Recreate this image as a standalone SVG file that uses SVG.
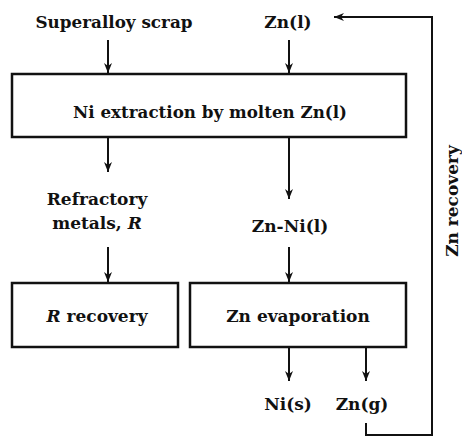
<svg xmlns="http://www.w3.org/2000/svg" width="462" height="438" viewBox="0 0 462 438">
<defs>
<marker id="ah" viewBox="0 0 10 8" refX="10" refY="4" markerWidth="10" markerHeight="8" markerUnits="userSpaceOnUse" orient="auto">
<path d="M0,0 L10,4 L0,8 L3,4 Z" fill="#111"/>
</marker>
</defs>
<style>
text{font-family:"DejaVu Serif","Liberation Serif",serif;font-weight:bold;font-size:17px;fill:#111}
.box{fill:#fff;stroke:#111;stroke-width:2.5}
.ln{fill:none;stroke:#111;stroke-width:2}
.arr{fill:none;stroke:#111;stroke-width:2;marker-end:url(#ah)}
</style>
<rect width="462" height="438" fill="#fff"/>
<g id="connectors">
<line class="arr" x1="108" y1="40" x2="108" y2="73"/>
<line class="arr" x1="289" y1="40" x2="289" y2="73"/>
<line class="arr" x1="108" y1="138" x2="108" y2="172"/>
<line class="arr" x1="289" y1="138" x2="289" y2="199"/>
<line class="arr" x1="108" y1="247" x2="108" y2="282"/>
<line class="arr" x1="289" y1="247" x2="289" y2="282"/>
<line class="arr" x1="289" y1="348" x2="289" y2="381"/>
<line class="arr" x1="366" y1="348" x2="366" y2="381"/>
<polyline class="arr" points="366,423 366,435 432,435 432,17 334,17"/>
</g>
<g id="superalloy"><text x="114" y="28" text-anchor="middle" textLength="157" lengthAdjust="spacingAndGlyphs">Superalloy scrap</text></g>
<g id="znl"><text x="288" y="28" text-anchor="middle">Zn(l)</text></g>
<g id="extraction">
<rect class="box" x="12" y="74" width="394" height="63"/>
<text x="210" y="118" text-anchor="middle" textLength="274" lengthAdjust="spacingAndGlyphs">Ni extraction by molten Zn(l)</text>
</g>
<g id="refractory">
<text x="97" y="205" text-anchor="middle">Refractory</text>
<text x="97" y="229" text-anchor="middle">metals, <tspan font-style="italic">R</tspan></text>
</g>
<g id="znni"><text x="290" y="232" text-anchor="middle">Zn-Ni(l)</text></g>
<g id="rrecovery">
<rect class="box" x="12" y="283" width="166" height="64"/>
<text x="97" y="322" text-anchor="middle"><tspan font-style="italic">R</tspan> recovery</text>
</g>
<g id="znevap">
<rect class="box" x="190" y="283" width="216" height="64"/>
<text x="298" y="322" text-anchor="middle">Zn evaporation</text>
</g>
<g id="nis"><text x="288" y="410" text-anchor="middle">Ni(s)</text></g>
<g id="zng"><text x="362" y="410" text-anchor="middle">Zn(g)</text></g>
<g id="znrecovery"><text x="0" y="0" transform="translate(458,201) rotate(-90)" text-anchor="middle">Zn recovery</text></g>
</svg>
